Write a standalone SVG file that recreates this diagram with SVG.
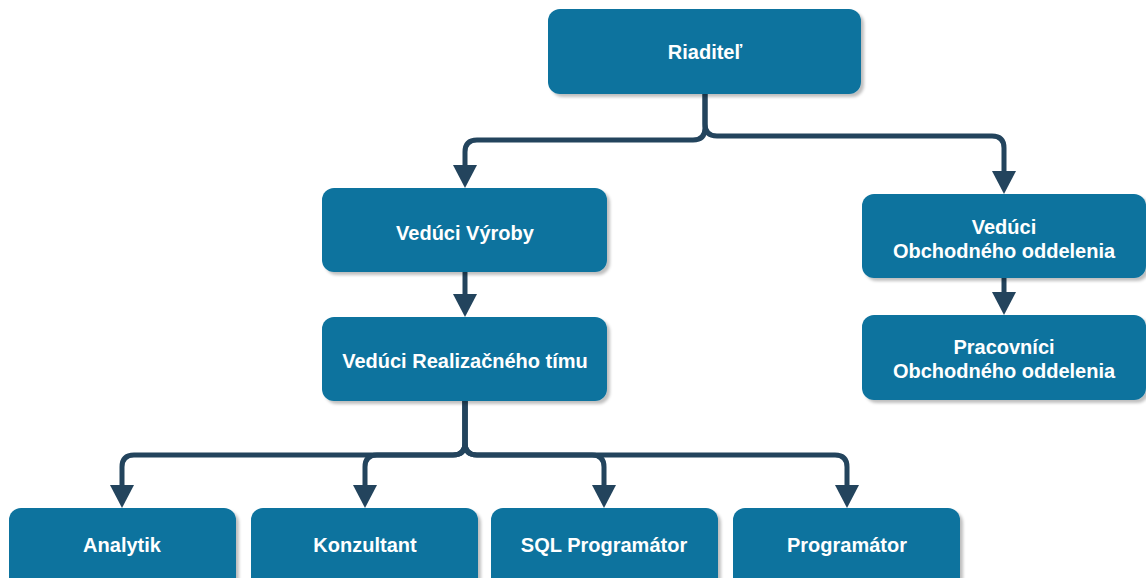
<svg xmlns="http://www.w3.org/2000/svg" width="1146" height="578" viewBox="0 0 1146 578">
  <defs>
    <filter id="shadow" x="-10%" y="-10%" width="130%" height="140%">
      <feGaussianBlur in="SourceAlpha" stdDeviation="1.5"/>
      <feOffset dx="3" dy="3" result="off"/>
      <feFlood flood-color="#000" flood-opacity="0.25"/>
      <feComposite in2="off" operator="in"/>
      <feMerge>
        <feMergeNode/>
        <feMergeNode in="SourceGraphic"/>
      </feMerge>
    </filter>
    <marker id="arrow" markerUnits="userSpaceOnUse" markerWidth="25" markerHeight="25" refX="0" refY="12" orient="auto">
      <path d="M0,0 L23,12 L0,24 Z" fill="#23445d"/>
    </marker>
  </defs>
  <style>
    .box { fill: #10739e; filter: url(#shadow); }
    .label { fill: #ffffff; font-family: "Liberation Sans", Arial, sans-serif; font-weight: bold; font-size: 20px; text-anchor: middle; dominant-baseline: central; }
    .link { fill: none; stroke: #23445d; stroke-width: 5; marker-end: url(#arrow); }
  </style>
  <rect width="1146" height="578" fill="#ffffff"/>

  <g id="connectors">
    <path class="link" d="M705,94 V128 Q705,140 693,140 H477 Q465,140 465,152 V165"/>
    <path class="link" d="M705,94 V124 Q705,136 717,136 H992 Q1004,136 1004,148 V171"/>
    <path class="link" d="M465,272 V294"/>
    <path class="link" d="M1004,278 V292"/>
    <path class="link" d="M465,401 V443 Q465,455 453,455 H134 Q122,455 122,467 V485"/>
    <path class="link" d="M465,401 V443 Q465,455 453,455 H377 Q365,455 365,467 V485"/>
    <path class="link" d="M465,401 V443 Q465,455 477,455 H592 Q604,455 604,467 V485"/>
    <path class="link" d="M465,401 V443 Q465,455 477,455 H835 Q847,455 847,467 V485"/>
  </g>

  <g id="riaditel">
    <rect class="box" x="548" y="9" width="313" height="85" rx="12"/>
    <text class="label" x="705" y="52">Riaditeľ</text>
  </g>
  <g id="veduci-vyroby">
    <rect class="box" x="322" y="188" width="285" height="84" rx="12"/>
    <text class="label" x="465" y="233">Vedúci Výroby</text>
  </g>
  <g id="veduci-realizacneho-timu">
    <rect class="box" x="322" y="317" width="285" height="84" rx="12"/>
    <text class="label" x="465" y="361">Vedúci Realizačného tímu</text>
  </g>
  <g id="veduci-obchodneho">
    <rect class="box" x="862" y="194" width="284" height="84" rx="12"/>
    <text class="label" x="1004" y="227">Vedúci</text>
    <text class="label" x="1004" y="251">Obchodného oddelenia</text>
  </g>
  <g id="pracovnici-obchodneho">
    <rect class="box" x="862" y="315" width="284" height="85" rx="12"/>
    <text class="label" x="1004" y="347">Pracovníci</text>
    <text class="label" x="1004" y="371">Obchodného oddelenia</text>
  </g>
  <g id="analytik">
    <rect class="box" x="9" y="508" width="227" height="84" rx="12"/>
    <text class="label" x="122" y="545">Analytik</text>
  </g>
  <g id="konzultant">
    <rect class="box" x="251" y="508" width="227" height="84" rx="12"/>
    <text class="label" x="365" y="545">Konzultant</text>
  </g>
  <g id="sql-programator">
    <rect class="box" x="491" y="508" width="227" height="84" rx="12"/>
    <text class="label" x="604" y="545">SQL Programátor</text>
  </g>
  <g id="programator">
    <rect class="box" x="733" y="508" width="227" height="84" rx="12"/>
    <text class="label" x="847" y="545">Programátor</text>
  </g>
</svg>
